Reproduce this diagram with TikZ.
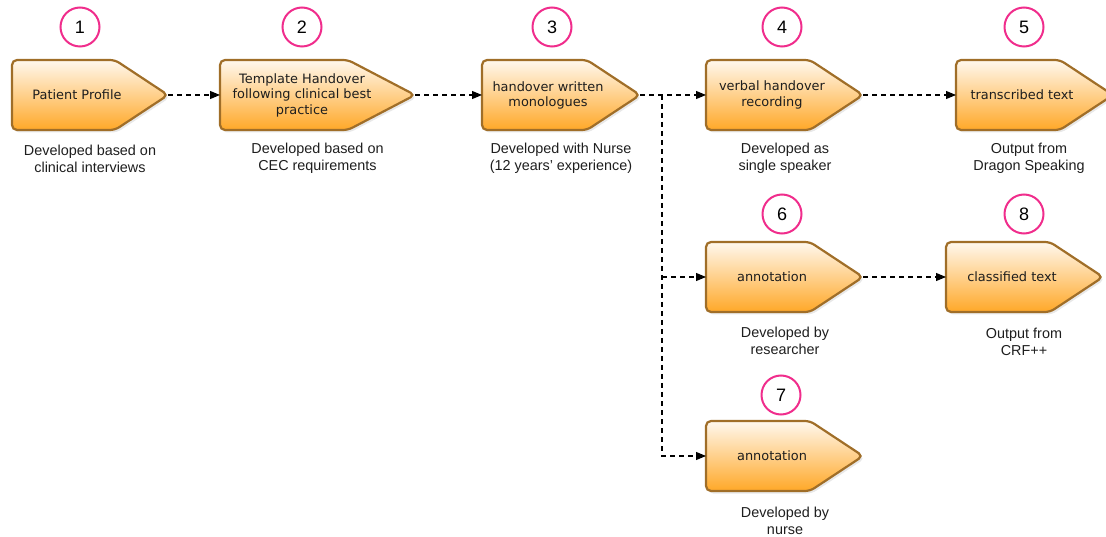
\documentclass[tikz,border=0pt]{standalone}
\usepackage{fontspec}
\setmainfont{Liberation Sans}
\newfontfamily\boxfont{DejaVu Sans}
\usetikzlibrary{arrows.meta,shadows}
\definecolor{numpink}{RGB}{240,45,140}
\definecolor{boxedge}{RGB}{160,110,40}
\definecolor{boxtop}{RGB}{255,248,238}
\definecolor{boxbot}{RGB}{255,168,40}
\definecolor{txt}{RGB}{30,30,30}
\tikzset{
  sigbox/.style={draw=boxedge, line width=2.2pt, rounded corners=5pt, top color=boxtop, bottom color=boxbot,
    drop shadow={opacity=0.18, shadow xshift=2pt, shadow yshift=-2.5pt}},
  boxtext/.style={font=\boxfont\fontsize{12.9}{15.5}\selectfont, text=txt, align=center, inner sep=0pt},
  caption/.style={font=\fontsize{14.4}{17}\selectfont, text=txt, align=center, inner sep=0pt},
  numcircle/.style={circle, draw=numpink, line width=2pt, minimum size=39pt, inner sep=0pt, font=\fontsize{18}{20}\selectfont, text=black},
  conn/.style={line width=1.1pt, dash pattern=on 5pt off 4pt, -{Triangle[length=10pt,width=8pt]}},
  connline/.style={line width=1.1pt, dash pattern=on 5pt off 4pt}
}
\begin{document}
\begin{tikzpicture}[x=1pt,y=-1pt]
\useasboundingbox (0,0) rectangle (1106,537);
% boxes
\draw[sigbox] (12,60) -- (115,60) -- (168,95) -- (115,130) -- (12,130) -- cycle;
\draw[sigbox] (220,60) -- (348,60) -- (415,95) -- (348,130) -- (220,130) -- cycle;
\draw[sigbox] (482,60) -- (587,60) -- (640,95) -- (587,130) -- (482,130) -- cycle;
\draw[sigbox] (706,60) -- (810,60) -- (863,95) -- (810,130) -- (706,130) -- cycle;
\draw[sigbox] (956,60) -- (1060,60) -- (1113,95) -- (1060,130) -- (956,130) -- cycle;
\draw[sigbox] (706,242) -- (810,242) -- (863,277) -- (810,312) -- (706,312) -- cycle;
\draw[sigbox] (946,242) -- (1050,242) -- (1103,277) -- (1050,312) -- (946,312) -- cycle;
\draw[sigbox] (706,421) -- (810,421) -- (863,456) -- (810,491) -- (706,491) -- cycle;
% ports
\coordinate (b1out) at (168,95);
\coordinate (b2in) at (220,95);
\coordinate (b2out) at (415,95);
\coordinate (b3in) at (482,95);
\coordinate (b3out) at (640,95);
\coordinate (b4in) at (706,95);
\coordinate (b4out) at (863,95);
\coordinate (b5in) at (956,95);
\coordinate (b6in) at (706,277);
\coordinate (b6out) at (863,277);
\coordinate (b8in) at (946,277);
\coordinate (b7in) at (706,456);
\coordinate (br) at (662,95);
% box texts
\node[boxtext] (t1) at (77,95) {Patient Profile};
\node[boxtext] (t2) at (302,95) {Template Handover\\following clinical best\\practice};
\node[boxtext] (t3) at (548,95.5) {handover written\\monologues};
\node[boxtext] (t4) at (772,95) {verbal handover\\recording};
\node[boxtext] (t5) at (1022,95) {transcribed text};
\node[boxtext] (t6) at (772,277) {annotation};
\node[boxtext] (t8) at (1012,277) {classified text};
\node[boxtext] (t7) at (772,456) {annotation};
% captions
\node[caption] (c1) at (90,158.5) {Developed based on\\clinical interviews};
\node[caption] (c2) at (317.5,158.5) {Developed based on\\CEC requirements};
\node[caption] (c3) at (561,158.5) {Developed with Nurse\\(12 years’ experience)};
\node[caption] (c4) at (785,158.5) {Developed as\\single speaker};
\node[caption] (c5) at (1029,158.5) {Output from\\Dragon Speaking};
\node[caption] (c6) at (785,340.5) {Developed by\\researcher};
\node[caption] (c8) at (1024,341.5) {Output from\\CRF++};
\node[caption] (c7) at (785,520.5) {Developed by\\nurse};
% number circles
\node[numcircle] (n1) at (80,27) {1};
\node[numcircle] (n2) at (302,27) {2};
\node[numcircle] (n3) at (552,27) {3};
\node[numcircle] (n4) at (782,27) {4};
\node[numcircle] (n5) at (1024,27) {5};
\node[numcircle] (n6) at (782,214) {6};
\node[numcircle] (n8) at (1024,214) {8};
\node[numcircle] (n7) at (781,395) {7};
% connectors
\draw[conn] (b1out) -- (b2in);
\draw[conn] (b2out) -- (b3in);
\draw[conn] (b3out) -- (b4in);
\draw[conn] (b4out) -- (b5in);
\draw[conn] (b6out) -- (b8in);
\draw[conn] (br) |- (b7in);
\draw[conn] (br |- b6in) -- (b6in);
\end{tikzpicture}
\end{document}
